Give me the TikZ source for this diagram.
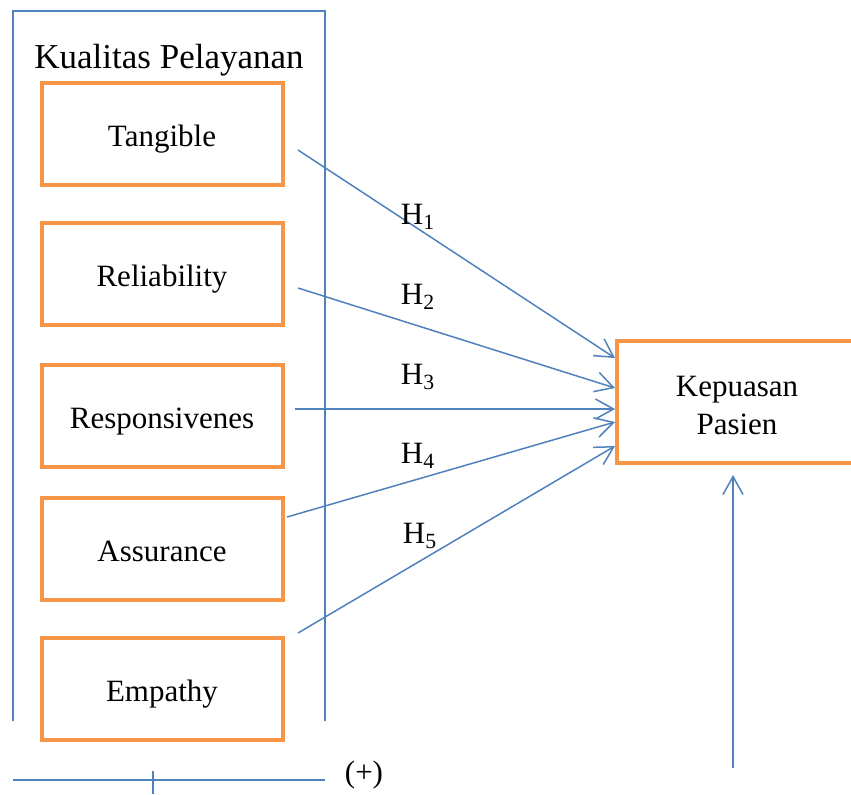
\documentclass[tikz,border=0pt]{standalone}
\usepackage{fontspec}
\setmainfont{Liberation Serif}
\usetikzlibrary{arrows.meta}
\usetikzlibrary{positioning}

\definecolor{blueline}{RGB}{79,129,189}
\definecolor{orangebox}{RGB}{247,150,70}

\tikzset{
  dimbox/.style={draw=orangebox, line width=2pt, minimum width=120.5pt, minimum height=51.25pt,
    inner sep=0pt, text height=12pt, text depth=0pt, font=\fontsize{15.5}{19}\selectfont},
  link/.style={draw=blueline, line width=0.75pt, -{Straight Barb[length=9pt,width=10pt]}},
  frameline/.style={draw=blueline, line width=0.75pt},
  hlabel/.style={font=\fontsize{15.5}{19}\selectfont}
}

\begin{document}
\begin{tikzpicture}[x=0.5pt, y=-0.5pt]

    \useasboundingbox (0,0) rectangle (851,794);
    \clip (0,0) rectangle (851,794);

    % frame around the dimensions
    \coordinate (F1) at (13,721);
    \coordinate (F2) at (13,11);
    \coordinate (F3) at (325,11);
    \coordinate (F4) at (325,721);
    \draw[frameline] (F1) -- (F2) -- (F3) -- (F4);
    \node[font=\fontsize{17.5}{20}\selectfont] (title) at (169,60) {Kualitas Pelayanan};

    \node[dimbox] (tan) at (162,134) {Tangible};
    \node[dimbox] (rel) at (162,274) {Reliability};
    \node[dimbox] (res) at (162,416) {Responsivenes};
    \node[dimbox] (ass) at (162,549) {Assurance};
    \node[dimbox] (emp) at (162,689) {Empathy};

    \node[dimbox, text height=, text depth=, minimum width=120pt, minimum height=61pt, align=center,
        inner ysep=0pt] (kp) at (737,402)
        {\rule{0pt}{14pt}Kepuasan\\Pasien};

    \coordinate (S1) at (298,150);
    \coordinate (S2) at (298,288);
    \coordinate (S3) at (295,409);
    \coordinate (S4) at (287,517);
    \coordinate (S5) at (298,633);

    \draw[link] (S1) -- ([yshift=22pt]kp.west);
    \draw[link] (S2) -- ([yshift=7pt]kp.west);
    \draw[link] (S3) -- ([yshift=-3.5pt]kp.west);
    \draw[link] (S4) -- ([yshift=-10pt]kp.west);
    \draw[link] (S5) -- ([yshift=-22pt]kp.west);

    \node[hlabel] (h1) at (418,217) {H\textsubscript{1}};
    \node[hlabel] (h2) at (418,297) {H\textsubscript{2}};
    \node[hlabel] (h3) at (418,377) {H\textsubscript{3}};
    \node[hlabel] (h4) at (418,456) {H\textsubscript{4}};
    \node[hlabel] (h5) at (420,536) {H\textsubscript{5}};

    % arrow from below
    \coordinate (U1) at (733,768);
    \coordinate (U2) at (733,475);
    \draw[link] (U1) -- (U2);

    % bottom line with tick
    \coordinate (B1) at (13,780);
    \coordinate (B2) at (325,780);
    \coordinate (T1) at (153,771);
    \coordinate (T2) at (153,794);
    \draw[frameline] (B1) -- (B2);
    \draw[frameline] (T1) -- (T2);
    \node[hlabel] (plus) at (364,775) {(+)};

\end{tikzpicture}
\end{document}
